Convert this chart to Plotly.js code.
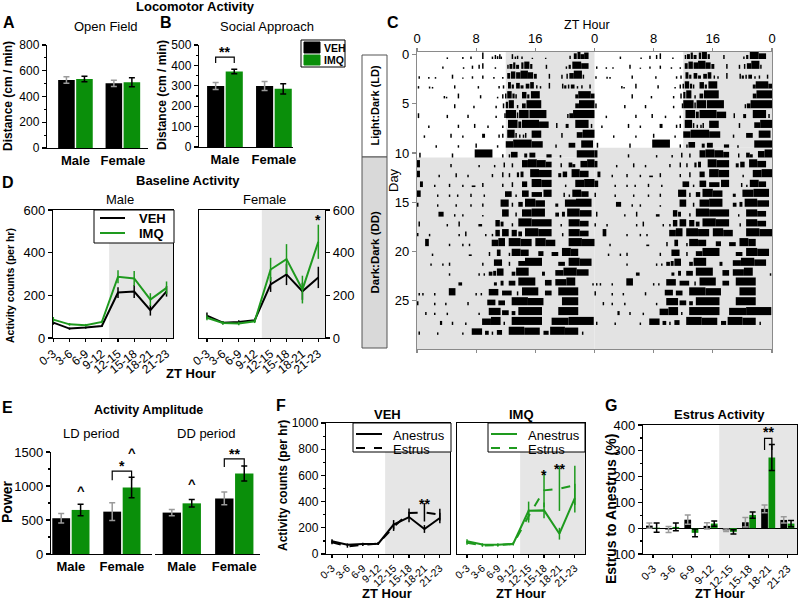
<!DOCTYPE html>
<html>
<head>
<meta charset="utf-8">
<script src="https://cdn.plot.ly/plotly-3.0.1.min.js"></script>
<style>
  body { margin: 0; background: #fff; }
  #fig { width: 798px; height: 601px; }
</style>
</head>
<body>
<div id="fig"></div>
<script>
// ---------- data ----------
var sexes = ["Male", "Female"];
var ztBins = ["0-3", "3-6", "6-9", "9-12", "12-15", "15-18", "18-21", "21-23"];
var actTicks = ["0", "8", "16", "0", "8", "16", "0"];

// A: open field distance (cm/min)
var ofVeh = [528, 502];
var ofVehErr = [26, 25];
var ofImq = [536, 510];
var ofImqErr = [22, 35];

// B: social approach distance (cm/min)
var saVeh = [299, 299];
var saVehErr = [17, 22];
var saImq = [370, 285];
var saImqErr = [11, 25];

// D: baseline activity counts per hr
var dMaleVeh = [72, 44, 49, 56, 213, 218, 130, 219];
var dMaleVehErr = [10, 5, 5, 5, 25, 30, 25, 25];
var dMaleImq = [86, 64, 60, 75, 287, 279, 180, 235];
var dMaleImqErr = [12, 6, 6, 6, 30, 35, 30, 30];
var dFemVeh = [105, 72, 75, 83, 251, 298, 219, 284];
var dFemVehErr = [15, 8, 8, 8, 35, 50, 40, 50];
var dFemImq = [95, 70, 68, 78, 321, 370, 227, 451];
var dFemImqErr = [12, 8, 8, 8, 55, 70, 65, 80];

// E: activity amplitude (power)
var ldVeh = [526, 623];
var ldVehErr = [70, 130];
var ldImq = [648, 979];
var ldImqErr = [85, 150];
var ddVeh = [609, 818];
var ddVehErr = [45, 95];
var ddImq = [745, 1183];
var ddImqErr = [55, 110];

// F: estrous cycle activity counts per hr
var fVehAn = [97, 71, 76, 79, 224, 282, 191, 275];
var fVehAnErr = [15, 10, 10, 10, 35, 40, 30, 40];
var fVehEs = [89, 58, 71, 79, 206, 313, 318, 300];
var fVehEsErr = [15, 10, 10, 10, 30, 35, 70, 45];
var fImqAn = [97, 72, 70, 78, 330, 333, 155, 427];
var fImqAnErr = [15, 10, 10, 10, 70, 60, 45, 110];
var fImqEs = [85, 65, 68, 75, 290, 486, 499, 524];
var fImqEsErr = [15, 10, 10, 10, 50, 130, 170, 150];

// G: estrus relative to anestrus (%)
var gVeh = [10, -5, 33, 9, -8, 23, 75, 32];
var gVehErr = [10, 12, 18, 12, 5, 18, 15, 12];
var gImq = [2, 5, -18, 18, -14, 51, 274, 18];
var gImqErr = [18, 15, 15, 10, 8, 12, 50, 12];

// C: actogram, one list per day. [start, end, level] = bout, [hour, level] = single bin
var actogram = [
  [[4.0,.2],[6.1,.25],[7.2,.3],[8.8,.8],[10.1,.3],[10.5,.5],[10.8,.35],[11.1,.6],[11.3,.3],[12.8,.6],[13.2,.3],[13.5,.4],[14.1,.3],[15.5,.15],[17.3,.15],[20.6,.4],[21.2,21.6,.7],[21.7,22.1,.9],[22.1,22.6,.6],[22.6,23.2,.8]],
  [[3.4,.3],[6.2,.2],[7.4,.4],[8.3,.5],[8.8,.7],[10.5,.2],[12.2,.5],[12.5,12.9,.6],[13.0,13.3,.8],[13.4,13.8,.5],[14.1,14.4,.8],[14.5,15.2,.9],[15.3,15.6,.6],[17.4,.5],[20.1,.3],[20.5,20.8,.5],[21.0,22.2,.9],[22.2,23.2,.7]],
  [[0.2,.3],[1.5,.2],[2.4,.2],[4.7,.5],[6.1,.15],[7.4,.3],[8.8,.4],[10.3,.2],[11.5,.2],[12.2,12.6,.7],[12.7,13.3,.9],[13.4,14.0,.8],[14.0,15.0,1],[15.0,15.7,.8],[15.8,16.2,.6],[17.8,.6],[19.5,.5],[20.2,.6],[20.6,21.2,.7],[21.2,22.3,1],[22.4,.5]],
  [[0.1,.3],[1.6,.25],[2.0,.2],[5.0,.4],[8.2,.3],[11.0,.3],[11.6,.4],[12.3,12.7,.8],[12.8,13.1,.5],[13.4,13.9,.7],[14.0,14.4,.4],[14.7,15.2,.6],[15.3,15.8,.8],[16.1,.4],[16.6,.3],[17.8,.7],[19.6,.6],[19.9,20.2,.4],[20.4,.5],[20.8,21.3,.5],[21.6,.3],[22.2,.4],[23.3,.5]],
  [[3.6,.3],[3.9,.2],[5.5,.6],[8.5,.4],[10.8,.2],[11.5,.5],[11.9,.6],[12.2,12.8,.9],[12.9,13.2,.6],[13.3,13.5,.5],[14.2,14.8,.8],[14.9,15.2,.5],[15.4,16.6,.9],[21.4,21.8,.5],[21.8,23.5,.9],[23.5,24.0,.6]],
  [[5.0,.5],[7.6,.3],[10.6,.3],[11.6,.6],[12.0,12.3,.8],[12.4,13.1,1],[13.5,.4],[14.2,14.7,.6],[14.8,16.8,1],[21.4,21.9,.6],[21.9,24.0,1]],
  [[0.1,.6],[4.0,.4],[6.8,.4],[10.6,.3],[11.8,.6],[12.0,13.4,1],[13.5,.7],[13.8,15.1,1],[15.2,17.5,1],[20.3,.5],[20.6,21.1,.6],[21.1,24.0,1]],
  [[1.5,.3],[5.5,.4],[7.7,.5],[9.5,.3],[11.5,.3],[12.3,13.6,1],[13.7,14.1,.8],[14.2,16.5,1],[16.5,17.8,.8],[18.8,.6],[20.1,20.5,.5],[21.4,23.2,1],[23.5,.5]],
  [[0.9,.3],[4.5,.5],[6.1,.3],[8.8,9.2,.5],[11.0,.4],[11.5,.5],[12.2,13.2,1],[13.3,.6],[13.8,.4],[14.3,.4],[14.6,.6],[15.5,16.8,.9],[19.5,.6],[21.6,22.4,.7],[22.4,24.0,1]],
  [[2.5,.3],[5.5,.3],[7.9,.5],[10.8,.3],[12.0,13.0,.8],[13.0,15.5,1],[15.5,17.0,.8],[18.7,.4],[20.5,21.4,.6],[22.2,23.8,.9]],
  [[0.3,.6],[4.7,.5],[7.8,10.2,1],[11.5,.4],[12.4,.4],[12.7,13.6,.7],[14.5,14.9,.5],[15.2,16.0,.6],[17.5,18.2,.4],[19.3,.3],[21.6,24.0,.9]],
  [[0.0,0.4,.9],[4.5,.4],[8.3,.3],[10.4,.3],[11.7,.6],[12.8,.5],[14.2,15.0,.9],[15.0,16.2,1],[16.2,17.4,.9],[17.4,18.2,.7],[19.4,.5],[20.5,21.0,.6],[21.0,21.4,.4],[22.1,23.0,.8],[23.0,24.0,1]],
  [[0.0,0.4,.8],[2.9,.3],[5.2,.5],[6.8,.3],[10.1,.4],[11.5,.6],[12.4,.5],[13.5,13.8,.6],[14.0,14.4,.7],[15.3,16.5,1],[16.5,18.2,.9],[19.1,19.5,.5],[19.7,20.3,.7],[20.9,22.0,1],[22.0,23.2,.8]],
  [[0.4,0.8,.7],[2.3,.3],[4.3,.4],[6.1,.3],[7.4,7.9,.2],[8.8,.5],[11.5,.4],[12.8,.6],[14.2,14.9,.7],[15.5,16.8,1],[16.8,18.2,.9],[20.0,.3],[21.4,22.6,.9],[22.6,24.0,1]],
  [[0.0,0.5,.8],[2.7,.3],[4.3,.3],[5.4,.3],[7.2,.4],[9.0,.3],[11.9,12.8,.7],[13.3,.3],[14.2,15.1,.8],[15.5,16.9,.6],[17.1,18.2,.9],[19.8,.5],[20.5,.3],[21.0,22.2,.9],[22.2,23.2,.7]],
  [[0.0,.5],[2.7,.3],[5.2,.3],[7.2,.3],[8.8,.4],[11.3,12.4,.9],[12.8,.5],[13.7,14.3,.6],[14.6,16.0,1],[16.0,17.3,.8],[18.7,19.1,.4],[20.0,21.5,.9],[21.5,23.6,1]],
  [[2.9,3.6,.6],[5.0,.3],[6.1,.3],[8.8,.2],[11.5,12.4,.9],[13.3,.5],[14.2,15.5,.9],[15.5,17.3,1],[18.7,19.2,.5],[19.6,20.0,.6],[20.3,22.0,1],[22.0,23.6,.8]],
  [[0.2,.6],[4.0,.3],[5.6,.6],[8.3,8.8,.3],[10.6,11.2,.8],[11.3,11.7,.6],[12.8,.4],[13.7,15.5,1],[15.5,18.2,.9],[19.4,.3],[20.5,22.0,.9],[22.0,23.2,.7]],
  [[0.0,.4],[1.6,.3],[5.6,.3],[6.5,.6],[9.2,.3],[10.1,.3],[10.6,11.2,.8],[11.5,12.4,.9],[12.8,13.5,.8],[13.7,14.2,.6],[14.6,16.4,1],[16.4,18.2,.9],[19.6,.4],[20.5,22.0,.9],[22.0,23.2,.7]],
  [[1.1,1.6,.9],[4.3,.3],[6.1,.3],[7.0,.3],[10.1,11.0,.8],[11.0,11.9,1],[12.4,14.0,1],[14.0,15.5,.9],[16.0,17.4,1],[17.4,18.7,.8],[20.5,22.3,1],[22.3,24.0,.9]],
  [[2.0,.3],[7.0,7.4,.2],[9.7,.5],[10.8,11.3,.8],[12.4,.4],[12.8,14.0,.9],[14.0,15.1,.8],[16.4,17.1,.6],[18.2,19.1,.5],[19.6,20.8,1],[20.8,21.8,.9]],
  [[1.8,.3],[3.4,.3],[4.3,.4],[8.8,.4],[10.4,11.5,.8],[12.4,.5],[13.7,14.6,.6],[14.6,16.9,1],[19.1,20.0,.5],[20.5,22.0,1],[22.0,23.6,.9]],
  [[4.3,.3],[8.3,.3],[9.0,.3],[9.7,10.2,.5],[10.3,10.7,.6],[10.8,11.7,.9],[12.8,13.3,.5],[13.4,15.1,1],[16.9,17.3,.5],[18.7,19.8,.7],[19.8,21.6,1],[21.6,23.2,.8]],
  [[5.6,6.1,.4],[10.4,10.8,.4],[11.3,11.7,.6],[12.4,13.3,.6],[13.7,16.0,1],[17.3,18.2,.7],[18.7,20.2,.8],[20.2,21.4,1],[23.7,.3]],
  [[0.2,.3],[0.7,.3],[2.3,.3],[4.3,5.2,.9],[7.9,.3],[8.6,.3],[9.7,11.0,.8],[11.5,12.8,.6],[13.5,.5],[14.2,16.4,1],[17.3,18.2,.6],[19.1,21.8,1]],
  [[0.0,0.2,.5],[2.3,.3],[3.8,.3],[6.8,.4],[9.5,10.6,.7],[11.0,11.9,.6],[12.8,15.0,1],[15.0,17.1,.9],[19.6,21.8,1]],
  [[1.1,.4],[2.3,.3],[4.0,.3],[8.3,.3],[9.7,11.3,.9],[11.5,12.4,.6],[12.8,13.3,.5],[13.7,16.9,1],[19.1,21.8,1]],
  [[3.1,3.4,.5],[4.7,.4],[6.5,.3],[8.8,10.0,.8],[10.0,11.3,1],[11.7,.4],[12.8,16.9,1],[18.2,20.5,.9],[20.5,23.9,1]],
  [[0.2,.4],[2.7,.3],[6.1,.3],[7.4,8.8,.8],[9.2,9.7,.5],[10.1,.4],[10.8,11.5,.6],[12.4,14.5,1],[14.5,16.6,.9],[17.1,17.8,.5],[18.0,20.0,1],[20.0,21.8,.9],[22.3,.4]]
];
var ldDays = 11;      // days 0-10 in light:dark, then constant darkness
var darkStart = 3.45; // ZT12 falls between the "9-12" and "12-15" bins

// ---------- helpers ----------
var W = 798, H = 601;
var FONT = "Liberation Sans, Arial, sans-serif";
var GREEN = "#0a8f0a";
var LGREEN = "#1e9a1e";
var SHADE = "#e6e6e6";
var idx = ztBins.map(function(_, i) { return i; });

function dom(a, b) { return [a / W, b / W]; }
function domY(top, bottom) { return [1 - bottom / H, 1 - top / H]; }
function positions(arr) { return arr.map(function(_, i) { return i; }); }

function axis(extra) {
  var a = {
    showline: true, linecolor: "black", linewidth: 1.2,
    ticks: "outside", ticklen: 4, tickwidth: 1.2, tickcolor: "black",
    showgrid: false, zeroline: false, fixedrange: true,
    tickfont: { family: FONT, size: 12, color: "black" }
  };
  for (var k in extra) a[k] = extra[k];
  return a;
}
function boldList(arr) { return arr.map(function(s) { return "<b>" + s + "</b>"; }); }

function barPair(xa, ya, veh, vehErr, imq, imqErr) {
  return [
    { type: "bar", x: positions(veh), y: veh,
      xaxis: xa, yaxis: ya, marker: { color: "black" }, showlegend: false, hoverinfo: "skip",
      error_y: { type: "data", array: vehErr, color: "#9a9a9a", thickness: 1.5, width: 3 } },
    { type: "bar", x: positions(imq), y: imq,
      xaxis: xa, yaxis: ya, marker: { color: GREEN }, showlegend: false, hoverinfo: "skip",
      error_y: { type: "data", array: imqErr, color: "black", thickness: 1.5, width: 3 } }
  ];
}

function line(xa, ya, y, err, color, dash) {
  return {
    type: "scatter", mode: "lines", x: idx, y: y, xaxis: xa, yaxis: ya,
    line: { color: color, width: 2, dash: dash || "solid" }, showlegend: false, hoverinfo: "skip",
    error_y: { type: "data", array: err, color: color, thickness: 1.5, width: 0 }
  };
}

// ---------- traces ----------
var traces = [];
traces = traces.concat(barPair("x", "y", ofVeh, ofVehErr, ofImq, ofImqErr));
traces = traces.concat(barPair("x2", "y2", saVeh, saVehErr, saImq, saImqErr));
traces = traces.concat(barPair("x6", "y6", ldVeh, ldVehErr, ldImq, ldImqErr));
traces = traces.concat(barPair("x7", "y7", ddVeh, ddVehErr, ddImq, ddImqErr));
traces = traces.concat(barPair("x10", "y10", gVeh, gVehErr, gImq, gImqErr));

traces.push(line("x4", "y4", dMaleVeh, dMaleVehErr, "black"));
traces.push(line("x4", "y4", dMaleImq, dMaleImqErr, LGREEN));
traces.push(line("x5", "y5", dFemVeh, dFemVehErr, "black"));
traces.push(line("x5", "y5", dFemImq, dFemImqErr, LGREEN));

traces.push(line("x8", "y8", fVehAn, fVehAnErr, "black"));
traces.push(line("x8", "y8", fVehEs, fVehEsErr, "black", "dash"));
traces.push(line("x9", "y9", fImqAn, fImqAnErr, LGREEN));
traces.push(line("x9", "y9", fImqEs, fImqEsErr, LGREEN, "dash"));

// actogram, double plotted: row d = day d (0-24 h) then day d+1 (24-48 h)
var actX = [], actW = [], actBase = [], actH = [];
function addRow(row, segs, shift) {
  segs.forEach(function(s) {
    var a = s[0];
    var b = s.length === 3 ? s[1] : s[0] + 0.2;
    var lvl = s[s.length - 1];
    actX.push(shift + (a + b) / 2);
    actW.push(b - a);
    actBase.push(row + 0.45);
    actH.push(-0.82 * lvl);
  });
}
for (var d = 0; d < actogram.length; d++) {
  addRow(d, actogram[d], 0);
  if (d > 0) addRow(d - 1, actogram[d], 24);
}
traces.push({
  type: "bar", x: actX, y: actH, base: actBase, width: actW,
  xaxis: "x3", yaxis: "y3", marker: { color: "black", line: { width: 0 } },
  showlegend: false, hoverinfo: "skip"
});

// ---------- layout ----------
var catAxis = function(d, anchor, range) {
  return axis({ domain: d, anchor: anchor, range: range, tickvals: [0, 1], ticktext: boldList(sexes),
    ticks: "", tickfont: { family: FONT, size: 13, color: "black" } });
};
var ztAxis = function(d, anchor, range, size, angle) {
  return axis({ domain: d, anchor: anchor, range: range, tickvals: idx, ticktext: ztBins, tickangle: angle,
    mirror: true, ticklen: 3, tickfont: { family: FONT, size: size, color: "black" } });
};

var rowsTop = -0.26, rowsBottom = 29.89;

var layout = {
  width: W, height: H, margin: { l: 0, r: 0, t: 0, b: 0 },
  paper_bgcolor: "white", plot_bgcolor: "rgba(0,0,0,0)",
  barmode: "group", bargap: 0.24, bargroupgap: 0.08,
  showlegend: false,
  font: { family: FONT, color: "black" },

  xaxis: catAxis(dom(47, 148), "y", [-0.6, 1.53]),
  yaxis: axis({ domain: domY(45, 148), anchor: "x", range: [0, 800], dtick: 200,
    minor: { ticks: "outside", ticklen: 2, dtick: 100, tickcolor: "black" } }),
  xaxis2: catAxis(dom(199, 293), "y2", [-0.53, 1.39]),
  yaxis2: axis({ domain: domY(45, 147), anchor: "x2", range: [0, 500], dtick: 100,
    minor: { ticks: "outside", ticklen: 2, dtick: 50, tickcolor: "black" } }),

  xaxis3: axis({ domain: dom(417, 772), anchor: "y3", range: [0, 48], side: "top", ticklen: 3,
    tickvals: [0, 8, 16, 24, 32, 40, 48], ticktext: actTicks, mirror: "ticks",
    linecolor: "#8a8a8a", tickcolor: "#8a8a8a", tickfont: { family: FONT, size: 13, color: "black" } }),
  yaxis3: axis({ domain: domY(52, 349), anchor: "x3", range: [rowsBottom, rowsTop],
    tickvals: [0, 5, 10, 15, 20, 25], mirror: true, linecolor: "#8a8a8a", tickcolor: "#8a8a8a",
    tickfont: { family: FONT, size: 13, color: "black" } }),

  xaxis4: ztAxis(dom(53, 173), "y4", [-0.02, 7.4], 12, -38),
  yaxis4: axis({ domain: domY(210, 338), anchor: "x4", range: [0, 600], dtick: 200, mirror: true,
    tickfont: { family: FONT, size: 13, color: "black" } }),
  xaxis5: ztAxis(dom(199, 325), "y5", [-0.5, 7.42], 12, -38),
  yaxis5: axis({ domain: domY(210, 338), anchor: "x5", side: "right", range: [0, 600], dtick: 200, mirror: true,
    tickfont: { family: FONT, size: 13, color: "black" } }),

  xaxis6: catAxis(dom(51, 152), "y6", [-0.39, 1.59]),
  yaxis6: axis({ domain: domY(452, 554), anchor: "x6", range: [0, 1500], dtick: 500,
    minor: { ticks: "outside", ticklen: 2, dtick: 250, tickcolor: "black" },
    tickfont: { family: FONT, size: 13, color: "black" } }),
  xaxis7: catAxis(dom(155, 260), "y7", [-0.51, 1.49]),
  yaxis7: axis({ domain: domY(452, 554), anchor: "x7", range: [0, 1500], visible: false }),

  xaxis8: ztAxis(dom(326, 450), "y8", [-0.39, 7.66], 10.5, -42),
  yaxis8: axis({ domain: domY(423, 554), anchor: "x8", range: [0, 1000], dtick: 200, mirror: true,
    minor: { ticks: "outside", ticklen: 2, dtick: 100, tickcolor: "black" },
    tickfont: { family: FONT, size: 12, color: "black" } }),
  xaxis9: ztAxis(dom(457, 585), "y9", [-0.65, 7.66], 10.5, -42),
  yaxis9: axis({ domain: domY(423, 554), anchor: "x9", range: [0, 1000], dtick: 200, mirror: true,
    ticks: "", showticklabels: false }),

  xaxis10: ztAxis(dom(643, 797), "y10", [-0.52, 7.5], 11, -45),
  yaxis10: axis({ domain: domY(425, 554), anchor: "x10", range: [-100, 400], dtick: 100, mirror: true,
    zeroline: true, zerolinecolor: "black", zerolinewidth: 1.2,
    minor: { ticks: "outside", ticklen: 2, dtick: 50, tickcolor: "black" },
    tickfont: { family: FONT, size: 13, color: "black" } })
};

// ---------- shapes: dark-phase shading, boxes, brackets, keys ----------
var shapes = [];
function shade(xa, ya, x0, x1) {
  shapes.push({ type: "rect", layer: "below", xref: xa, yref: ya + " domain", x0: x0, x1: x1, y0: 0, y1: 1,
    fillcolor: SHADE, line: { width: 0 } });
}
shade("x4", "y4", darkStart, 7.4);
shade("x5", "y5", darkStart, 7.42);
shade("x8", "y8", darkStart, 7.66);
shade("x9", "y9", darkStart, 7.66);
shade("x10", "y10", darkStart, 7.5);

// actogram background: dark half of LD days, then everything in DD
function actRect(x0, x1, y0, y1) {
  shapes.push({ type: "rect", layer: "below", xref: "x3", yref: "y3", x0: x0, x1: x1, y0: y0, y1: y1,
    fillcolor: "#e3e3e3", line: { width: 0 } });
}
actRect(12, 24, rowsTop, ldDays - 0.55);
actRect(36, 48, rowsTop, ldDays - 1.55);
actRect(0, 24, ldDays - 0.55, rowsBottom);
actRect(24, 48, ldDays - 1.55, rowsBottom);

function pbox(x0, y0, x1, y1, fill, lineColor) {
  shapes.push({ type: "rect", xref: "paper", yref: "paper", x0: x0 / W, x1: x1 / W, y0: 1 - y1 / H, y1: 1 - y0 / H,
    fillcolor: fill, line: { color: lineColor || "black", width: 1 } });
}
function pline(x0, y0, x1, y1, color, dash) {
  shapes.push({ type: "line", xref: "paper", yref: "paper", x0: x0 / W, x1: x1 / W, y0: 1 - y0 / H, y1: 1 - y1 / H,
    line: { color: color, width: 2, dash: dash || "solid" } });
}
// LD / DD side boxes
pbox(362, 55, 387, 157, "white", "#555");
pbox(362, 157, 387, 348, "#d9d9d9", "#555");

// significance brackets, anchored to the bar pair centres
var half = (1 - layout.bargap) / 4;
function bracket(xa, ya, cx, low, high) {
  shapes.push({ type: "path", xref: xa, yref: ya,
    path: "M" + (cx - half) + "," + low + " L" + (cx - half) + "," + high + " L" + (cx + half) + "," + high + " L" + (cx + half) + "," + low,
    line: { color: "black", width: 1.2 } });
}
bracket("x2", "y2", 0, 412, 441);
bracket("x6", "y6", 1, 1086, 1218);
bracket("x7", "y7", 1, 1280, 1400);
bracket("x10", "y10", 6, 303, 348);

// keys
pbox(301, 40, 345, 67, "white");
pbox(304, 42, 320, 53, "black", "black");
pbox(304, 55, 320, 65, GREEN, GREEN);
pbox(94, 210, 174, 243, "white");
pline(100, 218, 125, 218, "black");
pline(100, 233, 125, 233, LGREEN);
pbox(353, 423, 451, 452, "white");
pline(356, 434, 382, 434, "black");
pline(356, 448, 382, 448, "black", "dash");
pbox(488, 423, 585, 452, "white");
pline(491, 434, 517, 434, LGREEN);
pline(491, 448, 517, 448, LGREEN, "dash");
layout.shapes = shapes;

// ---------- annotations ----------
var anns = [];
function txt(text, x, y, size, opts) {
  var a = { text: text, x: x / W, y: 1 - y / H, xref: "paper", yref: "paper", showarrow: false,
    xanchor: "center", yanchor: "middle", font: { family: FONT, size: size, color: "black" } };
  for (var k in opts) a[k] = opts[k];
  anns.push(a);
}
function star(text, xa, ya, x, y, size) {
  anns.push({ text: "<b>" + text + "</b>", xref: xa, yref: ya, x: x, y: y, showarrow: false,
    font: { family: FONT, size: size || 14, color: "black" } });
}

txt("<b>Locomotor Activity</b>", 195, 7, 13);
txt("<b>A</b>", 9, 23, 16); txt("<b>B</b>", 166, 23, 16); txt("<b>C</b>", 393, 23, 16);
txt("<b>D</b>", 8, 183, 16); txt("<b>E</b>", 7, 407, 16); txt("<b>F</b>", 281, 405, 16); txt("<b>G</b>", 611, 405, 16);

txt("Open Field", 106, 27, 13);
txt("Social Approach", 267, 27, 13);
txt("<b>Distance (cm / min)</b>", 8, 96, 12, { textangle: -90 });
txt("<b>Distance (cm / min)</b>", 162, 95, 12, { textangle: -90 });
txt("<b>VEH</b>", 322, 47.5, 10.5, { xanchor: "left" });
txt("<b>IMQ</b>", 322, 60, 10.5, { xanchor: "left" });

txt("ZT Hour", 587, 25, 12.5);
txt("Day", 394, 180, 13, { textangle: -90 });
txt("<b>Light:Dark (LD)</b>", 374.5, 106, 11, { textangle: -90 });
txt("<b>Dark:Dark (DD)</b>", 374.5, 252, 11.5, { textangle: -90 });

txt("<b>Baseline Activity</b>", 188, 181, 13);
txt("Male", 120, 200, 13);
txt("Female", 264, 200, 13);
txt("<b>Activity counts (per hr)</b>", 10, 286, 10.5, { textangle: -90 });
txt("<b>ZT Hour</b>", 191, 373, 13);
txt("<b>VEH</b>", 137, 218, 13, { xanchor: "left" });
txt("<b>IMQ</b>", 137, 233, 13, { xanchor: "left" });

txt("<b>Activity Amplitude</b>", 148, 410, 12.5);
txt("LD period", 91, 433, 13);
txt("DD period", 206, 433, 13);
txt("<b>Power</b>", 7, 502, 14, { textangle: -90 });

txt("<b>VEH</b>", 387, 414, 13);
txt("<b>IMQ</b>", 521, 414, 13);
txt("<b>Activity counts (per hr)</b>", 283, 486, 12, { textangle: -90 });
txt("<b>ZT Hour</b>", 387, 593, 13);
txt("<b>ZT Hour</b>", 521, 593, 13);
txt("Anestrus", 391, 435, 13, { xanchor: "left" });
txt("Estrus", 391, 449, 13, { xanchor: "left" });
txt("Anestrus", 526, 435, 13, { xanchor: "left" });
txt("Estrus", 526, 449, 13, { xanchor: "left" });

txt("<b>Estrus Activity</b>", 719, 414, 13);
txt("<b>Estrus to Anestrus (%)</b>", 611, 509, 14, { textangle: -90 });
txt("<b>ZT Hour</b>", 720, 593, 13);

star("**", "x2", "y2", 0, 468);
star("*", "x5", "y5", 7, 555);
star("^", "x6", "y6", half, 930, 13);
star("*", "x6", "y6", 1, 1300);
star("^", "x6", "y6", 1 + half, 1490, 13);
star("^", "x7", "y7", half, 1030, 13);
star("**", "x7", "y7", 1, 1470);
star("^", "x7", "y7", 1 + half, 1610, 13);
star("**", "x8", "y8", 6, 378);
star("*", "x9", "y9", 5, 600);
star("**", "x9", "y9", 6, 650);
star("**", "x10", "y10", 6, 372);
layout.annotations = anns;

Plotly.newPlot("fig", traces, layout, { staticPlot: true, displayModeBar: false });
</script>
</body>
</html>
